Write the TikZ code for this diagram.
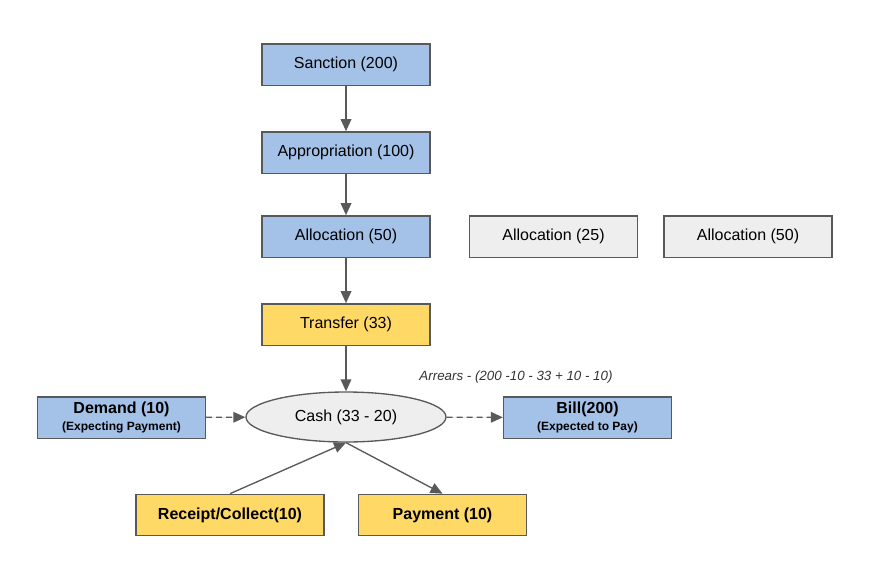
\documentclass[tikz,border=0pt]{standalone}
\usepackage{fontspec}
\setmainfont{Liberation Sans}
\usepackage{tikz}
\usetikzlibrary{shapes.geometric, arrows.meta, positioning}
\definecolor{fundblue}{HTML}{A4C2E8}
\definecolor{fundyellow}{HTML}{FFD966}
\definecolor{fundgray}{HTML}{EEEEEE}
\definecolor{edgegray}{HTML}{595959}

\begin{document}
\begin{tikzpicture}[x=0.75pt, y=-0.75pt,
  stage/.style={rectangle, fill=fundblue, draw=edgegray, line width=1pt,
    minimum width=126pt, minimum height=31pt, font=\fontsize{12}{14}\selectfont, align=center},
  cashstage/.style={stage, fill=fundyellow},
  spare/.style={stage, fill=fundgray},
  pool/.style={ellipse, fill=fundgray, draw=edgegray, line width=1pt,
    minimum width=150pt, minimum height=37.5pt, font=\fontsize{12}{14}\selectfont},
  flow/.style={-{Triangle[width=8pt, length=9pt]}, draw=edgegray, fill=edgegray, line width=1pt},
  expect/.style={flow, dashed, dash pattern=on 4.5pt off 3pt}
]
  \useasboundingbox (0,0) rectangle (876,565);

  \node[stage] (sanction) at (346, 64.5) {Sanction (200)};
  \node[stage] (approp) at (346, 152.5) {Appropriation (100)};
  \node[stage] (alloc) at (346, 236.5) {Allocation (50)};
  \node[spare] (allocb) at (553.5, 236.5) {Allocation (25)};
  \node[spare] (allocc) at (748, 236.5) {Allocation (50)};
  \node[cashstage] (transfer) at (346, 324.5) {Transfer (33)};
  \node[pool] (cash) at (346, 417) {Cash (33 - 20)};

  \node[stage] (demand) at (121.5, 417.5) {\textbf{Demand (10)}\\[-1pt]\fontsize{9}{10}\selectfont\bfseries (Expecting Payment)};
  \node[stage] (bill) at (587.5, 417.5) {\textbf{Bill(200)}\\[-1pt]\fontsize{9}{10}\selectfont\bfseries (Expected to Pay)};
  \node[cashstage, minimum width=141pt, font=\fontsize{12}{14}\selectfont\bfseries] (receipt) at (230, 515) {Receipt/Collect(10)};
  \node[cashstage, font=\fontsize{12}{14}\selectfont\bfseries] (payment) at (442.5, 515) {Payment (10)};

  \node[font=\fontsize{10}{12}\selectfont\itshape, text=black!80] (arrears) at (516, 377) {Arrears - (200 -10 - 33 + 10 - 10)};

  \draw[flow] (sanction) -- (approp);
  \draw[flow] (approp) -- (alloc);
  \draw[flow] (alloc) -- (transfer);
  \draw[flow] (transfer) -- (cash);
  \draw[expect] (demand) -- (cash);
  \draw[expect] (cash) -- (bill);
  \draw[flow] (receipt.north) -- (cash.south);
  \draw[flow] (cash.south) -- (payment.north);
\end{tikzpicture}
\end{document}
